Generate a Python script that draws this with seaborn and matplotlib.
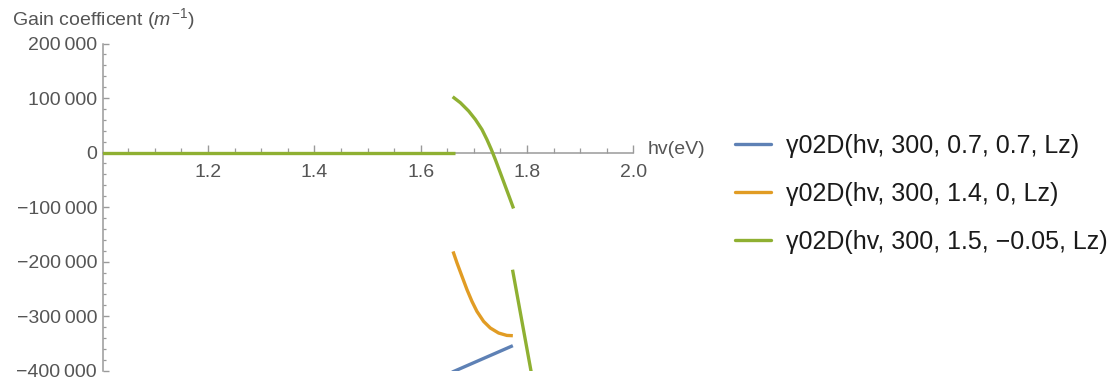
import numpy as np
import pandas as pd
import matplotlib
matplotlib.use("Agg")
import matplotlib.pyplot as plt
from matplotlib.ticker import FixedLocator, MultipleLocator, FuncFormatter
from matplotlib.lines import Line2D
import seaborn as sns

# ---------------- data ----------------
series_names = ["γ02D(hv, 300, 0.7, 0.7, Lz)",
                "γ02D(hv, 300, 1.4, 0, Lz)",
                "γ02D(hv, 300, 1.5, \u22120.05, Lz)"]
series_colors = ["#5E81B5", "#E19C24", "#8FB032"]

blue_hv = [1.659, 1.6654, 1.7734]
blue_gain = [-402700, -400000, -354100]

orange_hv = [1.6609, 1.6684, 1.6778, 1.6872, 1.6965, 1.7059,
             1.7184, 1.7310, 1.7466, 1.7621, 1.7734]
orange_gain = [-181300, -202500, -227100, -251500, -272900, -291300,
               -309600, -321700, -330900, -335300, -335800]

green_flat_hv = [1.0, 1.6641]
green_flat_gain = [0, 0]

green_upper_hv = [1.6602, 1.6748, 1.6903, 1.7029, 1.7153, 1.7246,
                  1.7329, 1.7404, 1.7498, 1.7591, 1.7685, 1.7747]
green_upper_gain = [102300, 91300, 76100, 60700, 42300, 24000,
                    5700, -12600, -37000, -61400, -86000, -102500]

green_lower_hv = [1.7728, 1.8071, 1.8093]
green_lower_gain = [-214800, -398100, -410000]

x_major_ticks = [1.2, 1.4, 1.6, 1.8, 2.0]
y_major_ticks = [-400000, -300000, -200000, -100000, 0, 100000, 200000]

# ---------------- build table ----------------
segments = [
    (series_names[0], "b0", blue_hv, blue_gain),
    (series_names[1], "o0", orange_hv, orange_gain),
    (series_names[2], "g0", green_flat_hv, green_flat_gain),
    (series_names[2], "g1", green_upper_hv, green_upper_gain),
    (series_names[2], "g2", green_lower_hv, green_lower_gain),
]
rows = []
for name, seg, xs, ys in segments:
    for xv, yv in zip(xs, ys):
        rows.append({"hv": xv, "gain": yv, "series": name, "segment": seg})
df = pd.DataFrame(rows)

# ---------------- style ----------------
sns.set_theme(style="white")
plt.rcParams["font.family"] = ["Liberation Sans", "DejaVu Sans"]
plt.rcParams["mathtext.fontset"] = "custom"
plt.rcParams["mathtext.rm"] = "Liberation Sans"
plt.rcParams["mathtext.it"] = "Liberation Sans:italic"

axis_gray = "#9a9a9a"
label_gray = "#555555"

W, H = 1116, 383
fig = plt.figure(figsize=(W / 100, H / 100), dpi=100)
ax_left, ax_right = 103.3, 633.3
ax_top, ax_bottom = 43.5, 370.7
ax = fig.add_axes([ax_left / W, (H - ax_bottom) / H,
                   (ax_right - ax_left) / W, (ax_bottom - ax_top) / H])

sns.lineplot(data=df, x="hv", y="gain", hue="series", units="segment",
             estimator=None, sort=False, palette=dict(zip(series_names, series_colors)),
             hue_order=series_names, linewidth=2.4, legend=False, ax=ax)
for ln in ax.get_lines():
    ln.set_solid_joinstyle("round")
    ln.set_solid_capstyle("butt")

ax.set_xlim(1.003, 2.0)
ax.set_ylim(-400000, 200000)
ax.set_xlabel("")
ax.set_ylabel("")

for s in ["top", "right"]:
    ax.spines[s].set_visible(False)
ax.spines["bottom"].set_position(("data", 0))
for s in ["bottom", "left"]:
    ax.spines[s].set_color(axis_gray)
    ax.spines[s].set_linewidth(1.1)
    ax.spines[s].set_zorder(0.5)

ax.xaxis.set_major_locator(FixedLocator(x_major_ticks))
ax.xaxis.set_minor_locator(MultipleLocator(0.05))
ax.xaxis.set_major_formatter(FuncFormatter(lambda v, p: f"{v:.1f}"))
ax.yaxis.set_major_locator(FixedLocator(y_major_ticks))
ax.yaxis.set_minor_locator(MultipleLocator(20000))

def yfmt(v, p):
    if abs(v) < 1:
        return "0"
    s = f"{abs(v):,.0f}".replace(",", "\u2009")
    return ("\u2212" if v < 0 else "") + s

ax.yaxis.set_major_formatter(FuncFormatter(yfmt))

ax.tick_params(axis="x", which="both", bottom=True, top=False)
ax.tick_params(axis="y", which="both", left=True, right=False)
ax.tick_params(axis="x", which="major", direction="in", length=6, width=1.0,
               color=axis_gray, labelcolor=label_gray, labelsize=14, pad=8.5)
ax.tick_params(axis="x", which="minor", direction="in", length=3.5, width=0.9,
               color=axis_gray)
ax.tick_params(axis="y", which="major", direction="in", length=4.5, width=1.0,
               color=axis_gray, labelcolor=label_gray, labelsize=14, pad=4.5)
ax.tick_params(axis="y", which="minor", direction="in", length=2.5, width=0.9,
               color=axis_gray)
ax.grid(False)

# axis labels
ax.text((648 - ax_left) / (ax_right - ax_left), 6000, "hv(eV)",
        transform=ax.get_yaxis_transform(), ha="left", va="center",
        fontsize=14, color=label_gray)
fig.text(12 / W, 1 - 19 / H, "Gain coefficent ($m^{-1}$)", ha="left", va="center",
         fontsize=14, color=label_gray)

# legend
handles = [Line2D([0], [0], color=c, lw=2.4) for c in series_colors]
fig.legend(handles, series_names, loc="center left",
           bbox_to_anchor=(735 / W, 1 - 193.5 / H), frameon=False,
           fontsize=18, handlelength=1.45, handletextpad=0.58,
           labelspacing=0.96, borderpad=0, borderaxespad=0,
           labelcolor="#1a1a1a")

fig.savefig("out.png", dpi=100)
